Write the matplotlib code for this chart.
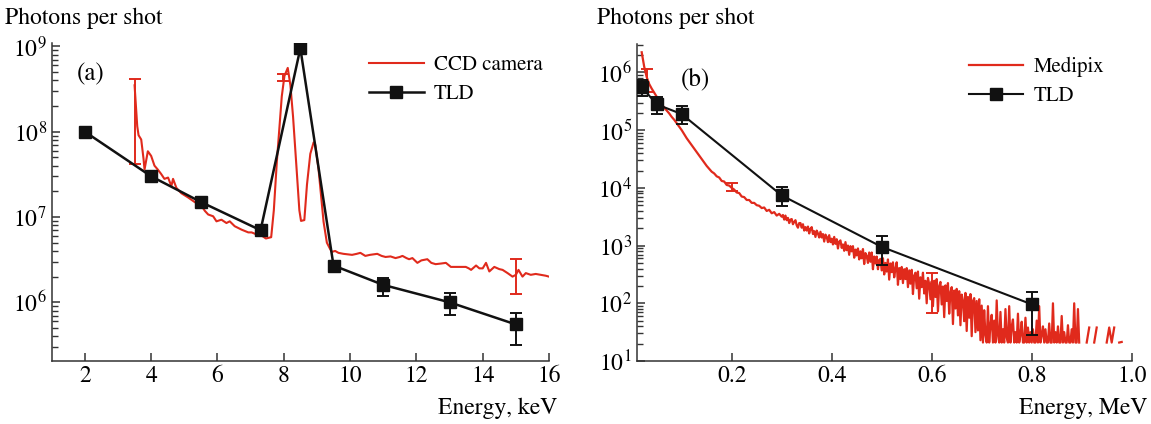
import numpy as np
import matplotlib
matplotlib.use("Agg")
import matplotlib.pyplot as plt
from matplotlib.ticker import LogLocator, FixedLocator, NullFormatter

plt.rcParams['font.family'] = ['STIXGeneral', 'DejaVu Serif']
plt.rcParams['mathtext.fontset'] = 'stix'

RED = "#e02a1c"
BLK = "#111111"

# ---------------- panel (a): keV range ----------------
tld_a_energy = [2, 4, 5.5, 7.3, 8.5, 9.5, 11, 13, 15]
tld_a_photons = [1.0e8, 3.0e7, 1.5e7, 7.0e6, 9.5e8, 2.7e6, 1.6e6, 1.0e6, 5.5e5]
tld_a_low = [9.0e7, 2.7e7, 1.35e7, 6.3e6, 9.0e8, 2.3e6, 1.2e6, 7.1e5, 3.2e5]
tld_a_high = [1.1e8, 3.3e7, 1.65e7, 7.7e6, 1.0e9, 3.0e6, 1.95e6, 1.3e6, 7.4e5]

ccd_energy = [3.50, 3.58, 3.62, 3.70, 3.77, 3.80, 3.90, 4.00, 4.10, 4.20, 4.30, 4.40,
              4.51, 4.61, 4.66, 4.76, 4.91, 5.11, 5.31, 5.52, 5.62, 5.72, 5.87, 5.97,
              6.12, 6.27, 6.37, 6.52, 6.73, 6.93, 7.03, 7.20, 7.35, 7.46, 7.62, 7.70,
              7.79, 7.94, 8.02, 8.12, 8.20, 8.28, 8.38, 8.47, 8.52, 8.62, 8.70, 8.80,
              8.90, 8.95, 9.05, 9.20, 9.30, 9.40, 9.45, 9.55, 9.65, 9.80, 10.06, 10.20,
              10.31, 10.46, 10.60, 10.82, 10.95, 11.07, 11.22, 11.37, 11.50, 11.58, 11.70, 11.78,
              11.88, 12.03, 12.15, 12.33, 12.45, 12.58, 12.75, 12.89, 13.04, 13.25, 13.49, 13.58,
              13.65, 13.80, 13.90, 14.00, 14.10, 14.20, 14.35, 14.50, 14.60, 14.75, 14.90, 15.00,
              15.08, 15.20, 15.30, 15.45, 15.60, 15.75, 15.90, 16.00]
ccd_photons = [3.5e8, 1.16e8, 9.1e7, 8.1e7, 4.8e7, 3.6e7, 5.9e7, 5.2e7, 4.0e7, 3.6e7, 3.2e7, 2.8e7,
               2.9e7, 2.3e7, 2.8e7, 2.2e7, 1.9e7, 1.7e7, 1.5e7, 1.35e7, 1.18e7, 1.07e7, 1.02e7, 8.9e6,
               9.3e6, 8.5e6, 8.9e6, 7.8e6, 7.1e6, 6.6e6, 6.6e6, 6.2e6, 6.0e6, 5.6e6, 5.8e6, 1.2e7,
               4.4e7, 2.6e8, 4.5e8, 5.6e8, 3.5e8, 1.5e8, 4.0e7, 1.2e7, 9.0e6, 9.2e6, 2.4e7, 5.5e7,
               7.5e7, 7.0e7, 3.6e7, 8.8e6, 5.0e6, 4.2e6, 3.9e6, 4.0e6, 3.8e6, 3.7e6, 3.6e6, 3.7e6,
               3.8e6, 3.5e6, 3.6e6, 3.7e6, 3.5e6, 3.4e6, 3.45e6, 3.3e6, 3.4e6, 3.5e6, 3.3e6, 3.2e6,
               3.3e6, 2.9e6, 3.1e6, 3.2e6, 2.9e6, 2.8e6, 2.85e6, 2.9e6, 2.6e6, 2.6e6, 2.6e6, 2.5e6,
               2.4e6, 2.7e6, 2.5e6, 2.5e6, 2.9e6, 2.3e6, 2.6e6, 2.45e6, 2.4e6, 2.2e6, 2.0e6, 2.1e6,
               2.4e6, 2.0e6, 2.2e6, 2.1e6, 2.15e6, 2.1e6, 2.05e6, 2.0e6]
ccd_err_energy = [3.5, 7.98, 15.0]
ccd_err_mid = [1.3e8, 4.25e8, 2.0e6]
ccd_err_low = [4.2e7, 3.9e8, 1.25e6]
ccd_err_high = [4.2e8, 4.7e8, 3.2e6]

# ---------------- panel (b): MeV range ----------------
tld_b_energy = [0.02, 0.05, 0.1, 0.3, 0.5, 0.8]
tld_b_photons = [5.6e5, 2.8e5, 1.9e5, 7.4e3, 9.5e2, 96]
tld_b_low = [3.9e5, 1.9e5, 1.3e5, 4.8e3, 4.6e2, 28]
tld_b_high = [7.5e5, 3.7e5, 2.6e5, 1.05e4, 1.45e3, 160]

# Medipix spectrum as log10(photons): 5 keV bins below 0.3 MeV,
# 2.5 keV bins from 0.3 to 0.9 MeV, 5 keV bins above
medipix_energy = np.concatenate([np.linspace(0.02, 0.30, 57),
                                 np.linspace(0.3025, 0.90, 240),
                                 np.linspace(0.905, 0.98, 16)])
medipix_log10 = [
    # 0.02 - 0.30
    6.35, 6.10, 5.92, 5.80, 5.72, 5.65, 5.58, 5.52, 5.45, 5.39,
    5.34, 5.29, 5.23, 5.18, 5.12, 5.06, 5.00, 4.93, 4.86, 4.80,
    4.74, 4.68, 4.62, 4.56, 4.50, 4.44, 4.38, 4.33, 4.28, 4.25,
    4.20, 4.18, 4.12, 4.11, 4.05, 4.04, 4.00, 3.97, 3.92, 3.91,
    3.85, 3.84, 3.79, 3.79, 3.74, 3.74, 3.70, 3.69, 3.65, 3.66,
    3.60, 3.62, 3.56, 3.58, 3.52, 3.55, 3.50,
    # 0.3025 - 0.35
    3.53, 3.45, 3.52, 3.44, 3.48, 3.39, 3.45, 3.46, 3.37, 3.41,
    3.44, 3.35, 3.31, 3.39, 3.39, 3.31, 3.37, 3.26, 3.32, 3.26,
    # 0.3525 - 0.40
    3.33, 3.21, 3.29, 3.32, 3.20, 3.25, 3.15, 3.26, 3.21, 3.14,
    3.24, 3.14, 3.20, 3.07, 3.19, 3.15, 3.06, 3.18, 3.06, 3.12,
    # 0.4025 - 0.45
    3.02, 3.15, 3.03, 3.11, 2.95, 3.07, 3.09, 2.96, 3.02, 2.91,
    3.06, 2.92, 3.00, 2.84, 2.99, 2.90, 2.99, 2.79, 2.93, 2.83,
    # 0.4525 - 0.50
    2.95, 2.76, 2.90, 2.78, 2.94, 2.68, 2.87, 2.82, 2.70, 2.88,
    2.72, 2.88, 2.59, 2.81, 2.69, 2.81, 2.59, 2.75, 2.77, 2.57,
    # 0.5025 - 0.55
    2.78, 2.50, 2.70, 2.55, 2.76, 2.41, 2.69, 2.54, 2.71, 2.45,
    2.60, 2.71, 2.32, 2.61, 2.42, 2.63, 2.35, 2.59, 2.42, 2.61,
    # 0.5525 - 0.60
    2.28, 2.57, 2.34, 2.58, 2.16, 2.48, 2.53, 2.26, 2.55, 2.08,
    2.45, 2.28, 2.53, 2.17, 2.39, 2.00, 2.44, 2.33, 2.07, 2.38,
    # 0.6025 - 0.65
    1.95, 2.39, 2.11, 2.42, 1.86, 2.30, 2.37, 1.98, 2.29, 1.76,
    2.31, 2.04, 2.35, 1.82, 2.19, 2.28, 1.64, 2.22, 1.91, 2.25,
    # 0.6525 - 0.70
    1.79, 2.21, 1.62, 2.15, 2.05, 1.69, 2.18, 1.52, 2.11, 1.75,
    2.16, 1.43, 2.04, 2.09, 1.50, 2.04, 1.53, 2.07, 1.36, 1.96,
    # 0.7025 - 0.75
    1.32, 1.88, 1.45, 1.32, 1.95, 1.32, 1.62, 1.80, 1.32, 1.70,
    1.32, 2.05, 1.45, 1.32, 1.85, 1.32, 1.55, 1.32, 1.90, 1.40,
    # 0.7525 - 0.80
    1.32, 1.95, 1.32, 1.60, 1.72, 1.32, 1.50, 1.32, 1.82, 1.32,
    1.45, 1.68, 1.32, 1.32, 1.75, 1.32, 1.58, 1.32, 1.50, 1.32,
    # 0.8025 - 0.85
    1.55, 1.32, 1.32, 1.70, 1.32, 1.95, 1.32, 1.45, 1.60, 1.32,
    1.55, 1.32, 1.32, 1.65, 1.32, 1.32, 2.00, 1.32, 1.50, 1.32,
    # 0.8525 - 0.90
    1.60, 1.32, 1.32, 1.78, 1.32, 1.50, 1.32, 1.32, 1.62, 1.32,
    1.32, 1.55, 1.32, 2.00, 1.32, 1.32, 1.90, 1.32, np.nan, np.nan,
    # 0.905 - 0.98
    np.nan, 1.32, 1.58, np.nan, 1.32, 1.58, np.nan, np.nan, np.nan, 1.32,
    1.58, 1.32, 1.58, np.nan, 1.32, 1.33]
medipix_photons = 10 ** np.array(medipix_log10)
medipix_err_energy = [0.03, 0.2, 0.6]
medipix_err_mid = [7.0e5, 1.0e4, 150]
medipix_err_low = [4.5e5, 8.7e3, 69]
medipix_err_high = [1.15e6, 1.2e4, 340]


def styleAxes(ax):
    for side in ["top", "right"]:
        ax.spines[side].set_visible(False)
    for side in ["left", "bottom"]:
        ax.spines[side].set_linewidth(1.1)
        ax.spines[side].set_color("#333333")
    ax.set_yscale("log")
    ax.yaxis.set_minor_locator(LogLocator(base=10, subs=np.arange(2, 10), numticks=20))
    ax.yaxis.set_minor_formatter(NullFormatter())
    ax.tick_params(which="major", direction="in", length=6, width=1.1, labelsize=17, color="#333333")
    ax.tick_params(which="minor", direction="in", length=4, width=1.0, color="#333333")
    ax.tick_params(axis="x", which="minor", length=0)


def errBars(ax, x, mid, low, high, color, cap, zorder):
    mid = np.array(mid)
    yerr = [mid - np.array(low), np.array(high) - mid]
    ax.errorbar(x, mid, yerr=yerr, fmt="none", ecolor=color, elinewidth=1.4,
                capsize=cap, capthick=1.4, zorder=zorder)


fig = plt.figure(figsize=(11.51, 4.24), dpi=100)

# panel (a)
ax1 = fig.add_axes([51.7 / 1151, 63 / 424, 497.3 / 1151, 318.1 / 424])
styleAxes(ax1)
ax1.plot(ccd_energy, ccd_photons, color=RED, lw=1.5, label="CCD camera", zorder=2)
errBars(ax1, ccd_err_energy, ccd_err_mid, ccd_err_low, ccd_err_high, RED, 4, 2)
errBars(ax1, tld_a_energy, tld_a_photons, tld_a_low, tld_a_high, BLK, 4, 3)
ax1.plot(tld_a_energy, tld_a_photons, color=BLK, lw=1.8, marker="s", ms=8.5,
         label="TLD", zorder=4)
ax1.set_xlim(1.0, 16)
ax1.set_ylim(2.05e5, 1.1e9)
ax1.xaxis.set_major_locator(FixedLocator([2, 4, 6, 8, 10, 12, 14, 16]))
ax1.text(0.05, 0.90, "(a)", transform=ax1.transAxes, fontsize=18, va="center")
ax1.legend(loc="upper right", bbox_to_anchor=(1.025, 1.02), frameon=False, fontsize=15,
           handlelength=2.6, handletextpad=0.5, labelspacing=0.45)

# panel (b)
ax2 = fig.add_axes([636.7 / 1151, 63 / 424, 495 / 1151, 316.9 / 424])
styleAxes(ax2)
ax2.plot(medipix_energy, medipix_photons, color=RED, lw=1.6, label="Medipix", zorder=2)
errBars(ax2, medipix_err_energy, medipix_err_mid, medipix_err_low, medipix_err_high, RED, 4, 2)
errBars(ax2, tld_b_energy, tld_b_photons, tld_b_low, tld_b_high, BLK, 4, 3)
ax2.plot(tld_b_energy, tld_b_photons, color=BLK, lw=1.5, marker="s", ms=8.5,
         label="TLD", zorder=4)
ax2.set_xlim(0.01, 1.0)
ax2.set_ylim(10, 3.1e6)
ax2.xaxis.set_major_locator(FixedLocator([0.2, 0.4, 0.6, 0.8, 1.0]))
ax2.set_xticklabels(["0.2", "0.4", "0.6", "0.8", "1.0"])
ax2.text(0.09, 0.89, "(b)", transform=ax2.transAxes, fontsize=18, va="center")
ax2.legend(loc="upper right", bbox_to_anchor=(0.982, 1.02), frameon=False, fontsize=15,
           handlelength=2.6, handletextpad=0.5, labelspacing=0.45)

# axis titles placed like the original figure
fig.text(5 / 1151, 1 - 18 / 424, "Photons per shot", fontsize=17, va="center", ha="left")
fig.text(597 / 1151, 1 - 18 / 424, "Photons per shot", fontsize=17, va="center", ha="left")
fig.text(557 / 1151, 1 - 408 / 424, "Energy, keV", fontsize=17, va="center", ha="right")
fig.text(1147 / 1151, 1 - 408 / 424, "Energy, MeV", fontsize=17, va="center", ha="right")

fig.savefig("out.png", dpi=100)
